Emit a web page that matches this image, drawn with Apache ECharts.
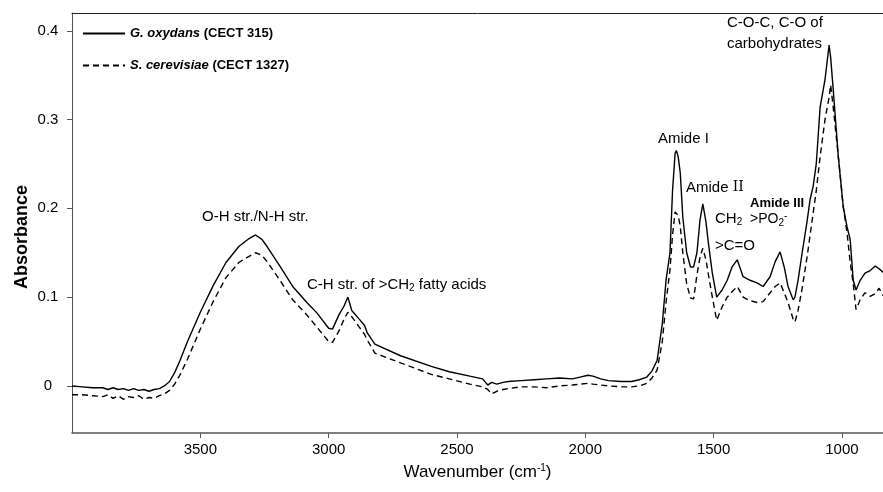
<!DOCTYPE html>
<html>
<head>
<meta charset="utf-8">
<script src="https://cdn.jsdelivr.net/npm/echarts@6/dist/echarts.min.js"></script>
<style>
  html, body { margin: 0; padding: 0; background: #fff; }
  #chart { width: 883px; height: 492px; }
</style>
</head>
<body>
<div id="chart"></div>
<script>
// wavenumber grid (cm-1)
const wavenumbers = [
  4000, 3960, 3920, 3880, 3860, 3840, 3820, 3800, 3780, 3760, 3740, 3720, 3700, 3680, 3660, 3640, 3620, 3600, 3580, 3550,
  3500, 3450, 3400, 3350, 3310, 3285, 3260, 3240, 3190, 3140, 3085, 3045, 3000, 2985, 2960, 2940, 2925, 2910, 2880, 2860,
  2850, 2820, 2720, 2600, 2530, 2450, 2400, 2380, 2365, 2345, 2320, 2300, 2250, 2200, 2150, 2100, 2050, 2020, 1990, 1970,
  1940, 1910, 1860, 1820, 1790, 1760, 1740, 1720, 1700, 1685, 1670, 1660, 1650, 1645, 1638, 1630, 1620, 1605, 1590, 1578,
  1565, 1553, 1542, 1530, 1520, 1505, 1488, 1467, 1447, 1428, 1408, 1385, 1358, 1331, 1307, 1280, 1260, 1241, 1225, 1210,
  1190, 1183, 1171, 1155, 1136, 1124, 1112, 1100, 1085, 1066, 1050, 1044, 1034, 1014, 995, 980, 968, 956, 945, 929,
  910, 890, 870, 855, 840, 820
]
// G. oxydans (CECT 315) - solid line
const gOxydans = [
  0.000, -0.001, -0.002, -0.002, -0.004, -0.002, -0.004, -0.003, -0.005, -0.003, -0.005, -0.004, -0.006, -0.004, -0.003, 0.000, 0.005, 0.015, 0.028, 0.050,
  0.083, 0.113, 0.139, 0.157, 0.166, 0.170, 0.165, 0.157, 0.135, 0.112, 0.094, 0.082, 0.065, 0.064, 0.080, 0.090, 0.100, 0.085, 0.075, 0.068,
  0.060, 0.047, 0.034, 0.022, 0.016, 0.011, 0.008, 0.001, 0.004, 0.002, 0.004, 0.005, 0.006, 0.007, 0.008, 0.009, 0.008, 0.010, 0.012, 0.011,
  0.008, 0.006, 0.005, 0.005, 0.007, 0.010, 0.017, 0.029, 0.070, 0.120, 0.150, 0.220, 0.262, 0.265, 0.258, 0.240, 0.190, 0.150, 0.134, 0.134,
  0.150, 0.187, 0.205, 0.185, 0.160, 0.127, 0.100, 0.108, 0.119, 0.134, 0.142, 0.123, 0.119, 0.116, 0.112, 0.123, 0.140, 0.151, 0.134, 0.112,
  0.097, 0.100, 0.119, 0.150, 0.185, 0.210, 0.225, 0.250, 0.314, 0.345, 0.384, 0.370, 0.334, 0.258, 0.202, 0.179, 0.165, 0.119, 0.108, 0.119,
  0.127, 0.130, 0.135, 0.132, 0.128, 0.126
]
// S. cerevisiae (CECT 1327) - dashed line
const sCerevisiae = [
  -0.010, -0.010, -0.011, -0.012, -0.010, -0.014, -0.011, -0.015, -0.012, -0.013, -0.011, -0.015, -0.013, -0.014, -0.011, -0.009, -0.005, 0.002, 0.012, 0.030,
  0.064, 0.095, 0.122, 0.139, 0.146, 0.150, 0.147, 0.140, 0.119, 0.097, 0.080, 0.066, 0.050, 0.049, 0.062, 0.075, 0.083, 0.078, 0.066, 0.058,
  0.052, 0.037, 0.026, 0.013, 0.008, 0.002, -0.001, -0.004, -0.009, -0.006, -0.004, -0.003, -0.001, -0.001, -0.002, 0.000, 0.001, 0.002, 0.003, 0.002,
  0.001, 0.000, -0.001, -0.001, 0.000, 0.003, 0.009, 0.018, 0.050, 0.095, 0.131, 0.170, 0.196, 0.198, 0.192, 0.180, 0.150, 0.115, 0.099, 0.098,
  0.125, 0.145, 0.155, 0.142, 0.125, 0.100, 0.074, 0.089, 0.100, 0.106, 0.112, 0.100, 0.096, 0.094, 0.095, 0.105, 0.112, 0.116, 0.105, 0.094,
  0.075, 0.072, 0.085, 0.110, 0.145, 0.170, 0.195, 0.220, 0.258, 0.300, 0.325, 0.339, 0.314, 0.258, 0.202, 0.172, 0.140, 0.115, 0.086, 0.097,
  0.105, 0.101, 0.104, 0.110, 0.102, 0.100
]
const xTicks = [1000, 1500, 2000, 2500, 3000, 3500]
const yTicks = [0, 0.1, 0.2, 0.3, 0.4]

const chart = echarts.init(document.getElementById('chart'))
const font = 'Liberation Sans, Arial, sans-serif'
const xMin = 840
const xMax = 4000

function pairs(ys) {
  return wavenumbers.map((w, i) => [w, ys[i]])
}

// plain text label placed by its top-left corner
function label(left, top, text, size, extra) {
  return {
    type: 'text',
    left: left,
    top: top,
    style: Object.assign({ text: text, font: size + 'px ' + font, fill: '#000' }, extra || {})
  }
}

const sub = { fontFamily: font, fontSize: 10, fill: '#000', verticalAlign: 'bottom', padding: [7, 0, 0, 0] }
const sup = { fontFamily: font, fontSize: 10, fill: '#000', verticalAlign: 'top', padding: [0, 0, 7, 0] }

const option = {
  animation: false,
  backgroundColor: '#fff',
  textStyle: { fontFamily: font, color: '#000' },
  grid: {
    left: 72,
    top: 13,
    right: 0,
    bottom: 59
  },
  legend: {
    orient: 'vertical',
    left: 82,
    top: 27,
    padding: 0,
    itemWidth: 42,
    itemHeight: 10,
    itemGap: 19,
    itemStyle: { opacity: 0 },
    textStyle: {
      fontFamily: font,
      fontSize: 13,
      fontWeight: 'bold',
      color: '#000',
      rich: {
        i: { fontFamily: font, fontSize: 13, fontWeight: 'bold', fontStyle: 'italic', color: '#000' }
      }
    },
    formatter: name => {
      const sp = name.indexOf(' (')
      return '{i|' + name.slice(0, sp) + '}' + name.slice(sp)
    },
    data: ['G. oxydans (CECT 315)', 'S. cerevisiae (CECT 1327)']
  },
  xAxis: [
    {
      type: 'value',
      inverse: true,
      min: xMin,
      max: xMax,
      name: '{a|Wavenumber (cm}{s|-1}{a|)}',
      nameLocation: 'middle',
      nameGap: 30,
      nameTextStyle: {
        rich: {
          a: { fontFamily: font, fontSize: 17, color: '#000' },
          s: { fontFamily: font, fontSize: 10, color: '#000', verticalAlign: 'top', padding: [0, 0, 9, 0] }
        }
      },
      axisLine: { show: true, onZero: false, lineStyle: { color: '#555', width: 1.5 } },
      axisTick: { show: true, length: 5, customValues: xTicks, lineStyle: { color: '#555' } },
      axisLabel: {
        customValues: xTicks,
        fontSize: 15,
        color: '#000',
        margin: 9,
        fontFamily: font,
        formatter: v => String(v)
      },
      splitLine: { show: false }
    },
    {
      // top frame line only
      type: 'value',
      position: 'top',
      inverse: true,
      min: xMin,
      max: xMax,
      axisLine: { show: true, onZero: false, lineStyle: { color: '#222', width: 1 } },
      axisTick: { show: false },
      axisLabel: { show: false },
      splitLine: { show: false }
    }
  ],
  yAxis: {
    type: 'value',
    min: -0.053,
    max: 0.42,
    axisLine: { show: true, lineStyle: { color: '#555' } },
    axisTick: { show: true, length: 5, customValues: yTicks, lineStyle: { color: '#555' } },
    axisLabel: {
      customValues: yTicks,
      fontSize: 15,
      color: '#000',
      margin: 24,
      align: 'center',
      fontFamily: font,
      formatter: v => (Math.abs(v) < 1e-9 ? '0' : v.toFixed(1))
    },
    splitLine: { show: false }
  },
  series: [
    {
      name: 'G. oxydans (CECT 315)',
      type: 'line',
      data: pairs(gOxydans),
      symbol: 'none',
      lineStyle: { color: '#000', width: 1.4 },
      itemStyle: { color: '#000' }
    },
    {
      name: 'S. cerevisiae (CECT 1327)',
      type: 'line',
      data: pairs(sCerevisiae),
      symbol: 'none',
      lineStyle: { color: '#000', width: 1.4, type: [6, 4] },
      itemStyle: { color: '#000' }
    }
  ],
  graphic: [
    {
      type: 'text',
      x: 22,
      y: 237,
      rotation: Math.PI / 2,
      style: {
        text: 'Absorbance',
        font: 'bold 18px ' + font,
        fill: '#000',
        align: 'center',
        verticalAlign: 'middle'
      }
    },
    label(727, 15, 'C-O-C, C-O of', 15),
    label(727, 36, 'carbohydrates', 15),
    label(658, 131, 'Amide I', 15),
    label(686, 180, '{a|Amide }{b|II}', 15, {
      rich: {
        a: { fontFamily: font, fontSize: 15, fill: '#000' },
        b: { fontFamily: 'DejaVu Serif', fontSize: 14, fill: '#000' }
      }
    }),
    label(750, 197, 'Amide III', 13, { font: 'bold 13px ' + font }),
    label(750, 211, '{a|>PO}{s|2}{p|-}', 15, {
      rich: { a: { fontFamily: font, fontSize: 14, fill: '#000' }, s: sub, p: sup }
    }),
    label(715, 211, '{a|CH}{s|2}', 15, {
      rich: { a: { fontFamily: font, fontSize: 15, fill: '#000' }, s: sub }
    }),
    label(715, 238, '>C=O', 15),
    label(202, 209, 'O-H str./N-H str.', 15),
    label(307, 277, '{a|C-H str. of >CH}{s|2}{a| fatty acids}', 15, {
      rich: { a: { fontFamily: font, fontSize: 15, fill: '#000' }, s: sub }
    })
  ]
}

chart.setOption(option)
</script>
</body>
</html>
